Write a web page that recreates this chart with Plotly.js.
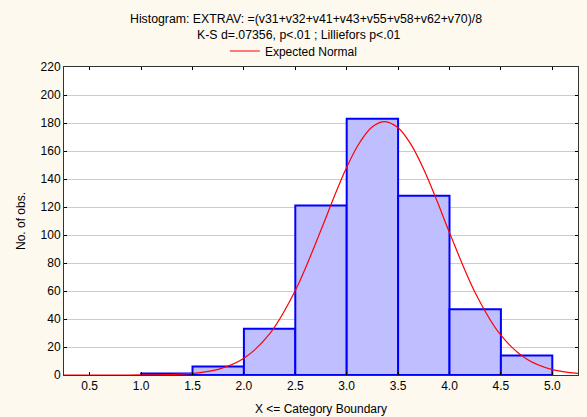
<!DOCTYPE html>
<html>
<head>
<meta charset="utf-8">
<script src="https://cdn.plot.ly/plotly-3.0.1.min.js"></script>
<style>html,body{margin:0;padding:0;background:#fdf9ef;}#chart{width:587px;height:417px;}</style>
</head>
<body>
<div id="chart"></div>
<script>
// Histogram bins (lower edge, upper edge) and counts
var binLower = [1.0, 1.5, 2.0, 2.5, 3.0, 3.5, 4.0, 4.5];
var binUpper = [1.5, 2.0, 2.5, 3.0, 3.5, 4.0, 4.5, 5.0];
var counts   = [1, 6, 33, 121, 183, 128, 47, 14];

// Expected Normal curve
var curveX = [0.25, 0.5, 0.75, 1.0, 1.25, 1.5, 1.75, 2.0, 2.25, 2.5, 2.75, 2.875, 3.0, 3.125, 3.25, 3.37, 3.5, 3.625, 3.75, 3.875, 4.0, 4.25, 4.5, 4.75, 5.0, 5.25];
var curveY = [0, 0, 0.01, 0.05, 0.27, 1.1, 4.0, 11.9, 29.3, 60.3, 103.6, 126.8, 148.4, 165.9, 177.3, 181, 176.6, 164.7, 146.8, 125.0, 101.7, 58.8, 28.4, 11.4, 3.8, 1.1];

// Tick labels
var xTickVals = [0.5, 1.0, 1.5, 2.0, 2.5, 3.0, 3.5, 4.0, 4.5, 5.0];
var xTickText = ['0.5', '1.0', '1.5', '2.0', '2.5', '3.0', '3.5', '4.0', '4.5', '5.0'];
var yTickVals = [0, 20, 40, 60, 80, 100, 120, 140, 160, 180, 200, 220];

var titleLine1 = 'Histogram: EXTRAV: =(v31+v32+v41+v43+v55+v58+v62+v70)/8';
var titleLine2 = 'K-S d=.07356, p<.01 ; Lilliefors p<.01';

var centers = binLower.map(function (lo, i) { return (lo + binUpper[i]) / 2; });
var widths = binLower.map(function (lo, i) { return binUpper[i] - lo; });

var font = 'Liberation Sans, Arial, sans-serif';

var traces = [
  {
    type: 'bar',
    x: centers,
    y: counts,
    width: widths,
    marker: { color: '#bfbfff', line: { color: '#0000ff', width: 2 } },
    showlegend: false,
    hoverinfo: 'x+y'
  },
  {
    type: 'scatter',
    mode: 'lines',
    x: curveX,
    y: curveY,
    name: 'Expected Normal',
    line: { color: '#ff0000', width: 1.2, shape: 'spline' },
    showlegend: true
  }
];

var layout = {
  width: 587,
  height: 417,
  paper_bgcolor: '#fdf9ef',
  plot_bgcolor: '#ffffff',
  margin: { l: 64, r: 9, t: 67, b: 42 },
  font: { family: font, size: 12, color: '#000000' },
  bargap: 0,
  xaxis: {
    range: [0.25, 5.25],
    tickmode: 'array',
    tickvals: xTickVals,
    ticktext: xTickText,
    ticks: 'inside',
    ticklen: 3,
    tickcolor: '#000000',
    showline: true,
    linecolor: '#333333',
    linewidth: 1,
    mirror: 'ticks',
    showgrid: false,
    zeroline: false,
    tickfont: { family: font, size: 12, color: '#000000' },
    title: { text: 'X <= Category Boundary', font: { family: font, size: 12, color: '#000000' }, standoff: 12 }
  },
  yaxis: {
    range: [0, 220],
    tickmode: 'array',
    tickvals: yTickVals,
    ticks: 'inside',
    ticklen: 3,
    tickcolor: '#000000',
    showline: true,
    linecolor: '#333333',
    linewidth: 1,
    mirror: 'ticks',
    showgrid: true,
    gridcolor: '#cccccc',
    gridwidth: 1,
    zeroline: false,
    tickfont: { family: font, size: 12, color: '#000000' },
    title: { text: 'No. of obs.', font: { family: font, size: 12, color: '#000000' }, standoff: 12 }
  },
  legend: {
    orientation: 'h',
    x: 0.313,
    xanchor: 'left',
    y: (375 - 51) / 308,
    yanchor: 'middle',
    bgcolor: 'rgba(0,0,0,0)',
    font: { family: font, size: 12, color: '#000000' }
  },
  annotations: [
    { text: titleLine1, xref: 'paper', yref: 'paper', x: 0.471, y: (375 - 19.5) / 308, xanchor: 'center', yanchor: 'middle', showarrow: false, font: { family: font, size: 12.3, color: '#000000' } },
    { text: titleLine2, xref: 'paper', yref: 'paper', x: 0.458, y: (375 - 35.5) / 308, xanchor: 'center', yanchor: 'middle', showarrow: false, font: { family: font, size: 12.3, color: '#000000' } }
  ]
};

Plotly.newPlot('chart', traces, layout, { displayModeBar: false, staticPlot: true });
</script>
</body>
</html>
